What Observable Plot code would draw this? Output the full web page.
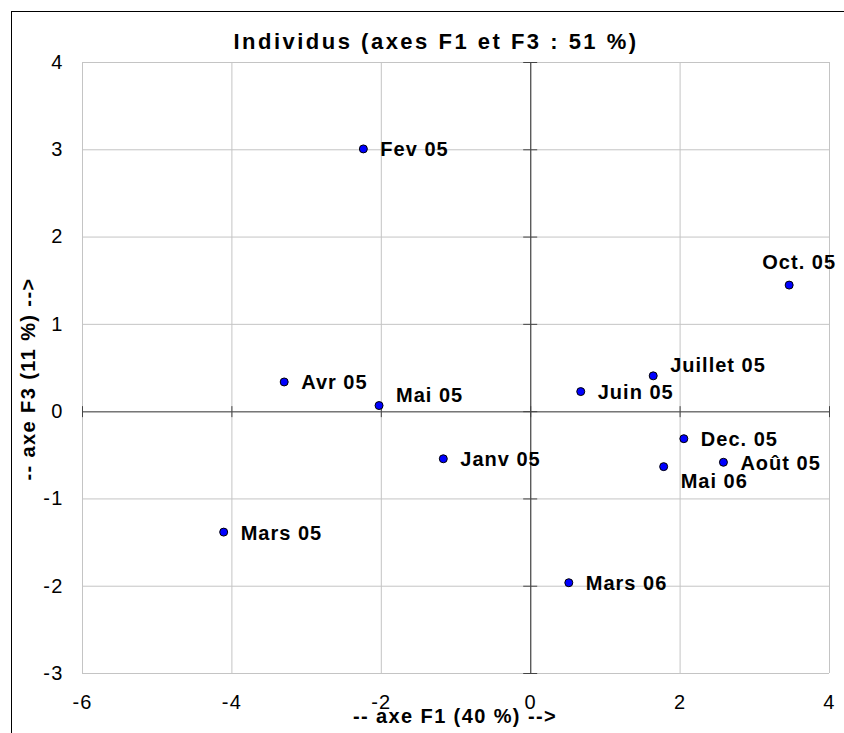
<!DOCTYPE html>
<html>
<head>
<meta charset="utf-8">
<script src="https://cdn.jsdelivr.net/npm/d3@7"></script>
<script src="https://cdn.jsdelivr.net/npm/@observablehq/plot@0.6"></script>
<style>
  html, body { margin: 0; padding: 0; background: #fff; }
  #wrap { position: relative; width: 844px; height: 733px; overflow: hidden; }
  #frame { position: absolute; left: 11px; top: 11px; width: 900px; height: 900px;
           border-left: 1px solid #000; border-top: 1px solid #000; pointer-events: none; }
  #chart { position: absolute; left: 0; top: 0; }
  #chart svg { font-family: "Liberation Sans", Arial, sans-serif; }
  #chart svg g[font-weight="bold"] text { letter-spacing: 1px; }
  #chart svg g.title text { letter-spacing: 2.5px; }
  #chart svg g.axlabel text { letter-spacing: 1.4px; }
  #chart svg g[aria-label^="x-axis tick label"] text,
  #chart svg g[aria-label^="y-axis tick label"] text { letter-spacing: 1.2px; }
</style>
</head>
<body>
<div id="wrap">
  <div id="chart"></div>
  <div id="frame"></div>
</div>
<script>
// ---- Data ----
const months = ["Fev 05", "Oct. 05", "Avr 05", "Mai 05", "Juillet 05", "Juin 05",
                "Dec. 05", "Août 05", "Mai 06", "Janv 05", "Mars 05", "Mars 06"];
const axeF1 = [-2.24, 3.46, -3.30, -2.03, 1.64, 0.67, 2.05, 2.58, 1.78, -1.17, -4.11, 0.51];
const axeF3 = [3.01, 1.45, 0.34, 0.07, 0.41, 0.23, -0.31, -0.58, -0.63, -0.54, -1.38, -1.96];
const xTicks = [-6, -4, -2, 0, 2, 4];
const yTicks = [-3, -2, -1, 0, 1, 2, 3, 4];
const titleText = "Individus (axes F1 et F3 : 51 %)";
const xLabel = "-- axe F1 (40 %) -->";
const yLabel = "-- axe F3 (11 %) -->";

const points = months.map((m, i) => ({name: m, f1: axeF1[i], f3: axeF3[i]}));

// label placement groups
const aboveRight = new Set(["Mai 05", "Juillet 05"]);
const below = new Set(["Mai 06"]);
const above = new Set(["Oct. 05"]);
const right = points.filter(d => !aboveRight.has(d.name) && !below.has(d.name) && !above.has(d.name));

const labelStyle = {x: "f1", y: "f3", text: "name", fontSize: 20, fontWeight: "bold", fill: "#000"};
const fmt = d => `${d}`;

const chart = Plot.plot({
  width: 844,
  height: 733,
  marginLeft: 82,
  marginRight: 15,
  marginTop: 62,
  marginBottom: 60,
  style: {fontFamily: "'Liberation Sans', Arial, sans-serif", color: "#000", background: "transparent"},
  x: {domain: [-6, 4], ticks: xTicks, tickSize: 0, tickPadding: 0},
  y: {domain: [-3, 4], ticks: yTicks, tickSize: 0},
  marks: [
    Plot.gridX(xTicks, {stroke: "#c4c4c4", strokeOpacity: 1, strokeWidth: 1}),
    Plot.gridY(yTicks, {stroke: "#c4c4c4", strokeOpacity: 1, strokeWidth: 1}),
    Plot.axisX(xTicks, {tickSize: 0, tickPadding: 21, fontSize: 20, label: null, tickFormat: fmt}),
    Plot.axisY(yTicks, {tickSize: 0, tickPadding: 19, fontSize: 20, label: null, tickFormat: fmt}),
    // zero axes
    Plot.ruleY([0], {stroke: "#777", strokeWidth: 1.5}),
    Plot.ruleX([0], {stroke: "#555", strokeWidth: 1.3}),
    // tick marks crossing the zero axes
    Plot.ruleY(yTicks, {y: d => d, x1: 0, x2: 0, insetLeft: -7, insetRight: -7, stroke: "#444", strokeWidth: 1}),
    Plot.ruleX(xTicks, {x: d => d, y1: 0, y2: 0, insetTop: -5, insetBottom: -6, stroke: "#444", strokeWidth: 1}),
    // points
    Plot.dot(points, {x: "f1", y: "f3", r: 4, fill: "#0000ff", stroke: "#000", strokeWidth: 1}),
    // labels
    Plot.text(right, {...labelStyle, textAnchor: "start", dx: 17, dy: 1}),
    Plot.text(points.filter(d => aboveRight.has(d.name)), {...labelStyle, textAnchor: "start", dx: 17, dy: -10}),
    Plot.text(points.filter(d => below.has(d.name)), {...labelStyle, textAnchor: "start", dx: 17, dy: 15}),
    Plot.text(points.filter(d => above.has(d.name)), {...labelStyle, textAnchor: "middle", dx: 10, dy: -22}),
    // title and axis labels
    Plot.text([titleText], {frameAnchor: "top", dx: -20, dy: -29, fontSize: 22, fontWeight: "bold", fill: "#000", className: "title"}),
    Plot.text([xLabel], {frameAnchor: "bottom", dx: -1, dy: 49, fontSize: 20, fontWeight: "bold", fill: "#000", className: "axlabel"}),
    Plot.text([yLabel], {frameAnchor: "left", textAnchor: "middle", rotate: -90, dx: -54, dy: 11, fontSize: 20, fontWeight: "bold", fill: "#000", className: "axlabel"})
  ]
});
document.getElementById("chart").appendChild(chart);
</script>
</body>
</html>
